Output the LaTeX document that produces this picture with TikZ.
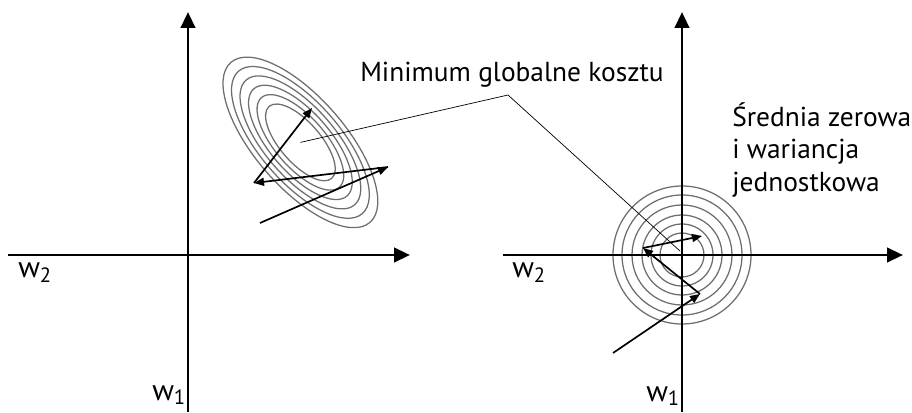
\documentclass[tikz,border=0pt]{standalone}
\usepackage{fontspec}
\setmainfont{PT Sans}
\usepackage{tikz}
\usetikzlibrary{arrows.meta,positioning}
\definecolor{contour}{RGB}{110,110,110}

\begin{document}
\begin{tikzpicture}[
  axis/.style={line width=2.1pt, -{Triangle[length=4mm,width=3.6mm]}},
  stepline/.style={line width=1.2pt, -{Triangle[length=2.5mm,width=2mm]}},
  ring/.style={draw=contour, line width=0.9pt},
  lbl/.style={font=\fontsize{19.5}{21}\selectfont, inner sep=0pt},
  wlbl/.style={font=\fontsize{21}{24}\selectfont, inner sep=0pt},
  leader/.style={line width=0.5pt}
]
\useasboundingbox (0,0) rectangle (22.8,10.3);
\coordinate (o1) at (4.7,3.925);
\coordinate (o2) at (17.05,3.925);
\coordinate (c1) at (7.51,6.74);

% contours
\foreach \k in {0.45,0.56,0.67,0.78,0.89,1}
  \draw[ring, rotate around={-49:(c1)}] (c1) ellipse ({2.65*\k} and {1.125*\k});
\foreach \r in {0.55,0.775,1.0,1.25,1.5,1.725}
  \draw[ring] (o2) circle (\r);

% axes
\draw[axis] (0.2,3.925) -- (10.25,3.925);
\draw[axis] (4.7,0) -- (4.7,10.0);
\draw[axis] (12.575,3.925) -- (22.575,3.925);
\draw[axis] (17.05,0) -- (17.05,10.0);

% descent steps
\coordinate (a0) at (6.5,4.725);
\coordinate (a1) at (9.7,6.125);
\coordinate (a2) at (6.35,5.725);
\coordinate (a3) at (7.8,7.6);
\draw[stepline] (a0) -- (a1);
\draw[stepline] (a1) -- (a2);
\draw[stepline] (a2) -- (a3);

\coordinate (b0) at (15.325,1.475);
\coordinate (b1) at (17.5,2.95);
\coordinate (b2) at (16.075,4.1);
\coordinate (b3) at (17.55,4.4);
\draw[stepline] (b0) -- (b1);
\draw[stepline] (b1) -- (b2);
\draw[stepline] (b2) -- (b3);

% labels
\node[lbl, anchor=base west] (minlbl) at (9.0,8.25) {Minimum globalne kosztu};
\node[lbl, anchor=north west, align=left] (norm) at (18.3,7.74)
  {Średnia zerowa\\[2pt]i wariancja\\[2pt]jednostkowa};
\node[wlbl, anchor=base west] (w2l) at (0.45,3.35) {w\textsubscript{2}};
\node[wlbl, anchor=base west] (w1l) at (3.8,0.3) {w\textsubscript{1}};
\node[wlbl, anchor=base west] (w2r) at (12.8,3.35) {w\textsubscript{2}};
\node[wlbl, anchor=base west] (w1r) at (16.15,0.275) {w\textsubscript{1}};

\coordinate (bend) at (12.7,7.925);
\coordinate (min2) at (17.0,4.025);
\draw[leader] (c1) -- (bend) -- (min2);
\end{tikzpicture}
\end{document}
